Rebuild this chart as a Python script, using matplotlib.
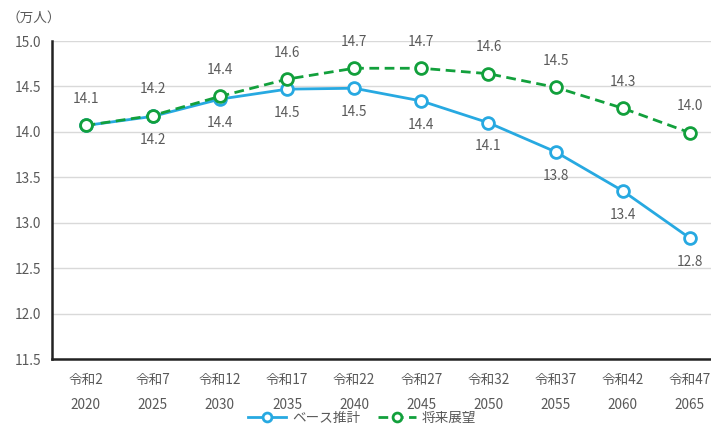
import matplotlib
matplotlib.use("Agg")
import matplotlib.pyplot as plt

plt.rcParams['font.family'] = ['Noto Sans CJK JP', 'DejaVu Sans']

era_labels = ['令和2', '令和7', '令和12', '令和17', '令和22', '令和27', '令和32', '令和37', '令和42', '令和47']
years = ['2020', '2025', '2030', '2035', '2040', '2045', '2050', '2055', '2060', '2065']
base = [14.07, 14.17, 14.36, 14.47, 14.48, 14.34, 14.10, 13.78, 13.35, 12.83]
outlook = [14.07, 14.18, 14.39, 14.58, 14.70, 14.70, 14.64, 14.49, 14.26, 13.99]
base_labels = [None, '14.2', '14.4', '14.5', '14.5', '14.4', '14.1', '13.8', '13.4', '12.8']
outlook_labels = ['14.1', '14.2', '14.4', '14.6', '14.7', '14.7', '14.6', '14.5', '14.3', '14.0']

blue = '#27a9e1'
green = '#12a03c'
gray = '#595959'
fs = 9.8

fig = plt.figure(figsize=(7.11, 4.25), dpi=100)
ax = fig.add_axes([52/711, 1-359/425, (723.5-52)/711, (359-41)/425])

x = list(range(len(years)))
ax.plot(x, base, color=blue, lw=2.0, marker='o', ms=8.5, mfc='white', mec=blue, mew=2.0,
        label='ベース推計', zorder=3)
ax.plot(x, outlook, color=green, lw=2.0, ls=(0, (3.5, 2)), marker='o', ms=8.5, mfc='white',
        mec=green, mew=2.0, label='将来展望', zorder=4)

for i in x:
    if outlook_labels[i]:
        ax.annotate(outlook_labels[i], (i, outlook[i]), xytext=(0, 14), textcoords='offset points',
                    ha='center', va='bottom', fontsize=fs, color=gray)
    if base_labels[i]:
        ax.annotate(base_labels[i], (i, base[i]), xytext=(0, -12), textcoords='offset points',
                    ha='center', va='top', fontsize=fs, color=gray)

ax.set_xlim(-0.5, 9.5)
ax.set_ylim(11.5, 15.0)
yt = [11.5, 12.0, 12.5, 13.0, 13.5, 14.0, 14.5, 15.0]
ax.set_yticks(yt)
ax.set_yticklabels([f'{v:.1f}' for v in yt], fontsize=fs, color=gray)
ax.set_xticks(x)
ax.set_xticklabels([f'{e}\n{y}' for e, y in zip(era_labels, years)], fontsize=fs, color=gray,
                   linespacing=2.0)
ax.tick_params(length=0, pad=8)
ax.tick_params(axis='x', pad=10)
ax.grid(axis='y', color='#d9d9d9', lw=1.0)
ax.set_axisbelow(True)
for s in ['top', 'right']:
    ax.spines[s].set_visible(False)
for s in ['left', 'bottom']:
    ax.spines[s].set_color('#222222')
    ax.spines[s].set_linewidth(1.8)

fig.text(7/711, 1-18/425, '（万人）', fontsize=fs, color=gray, va='center', ha='left')

fig.legend(loc='center', bbox_to_anchor=(362/711, 1-418/425), ncol=2, frameon=False,
           fontsize=fs, labelcolor=gray, handlelength=2.8, columnspacing=1.3, handletextpad=0.4,
           borderpad=0, markerscale=0.75)

fig.savefig('out.png', dpi=100)
